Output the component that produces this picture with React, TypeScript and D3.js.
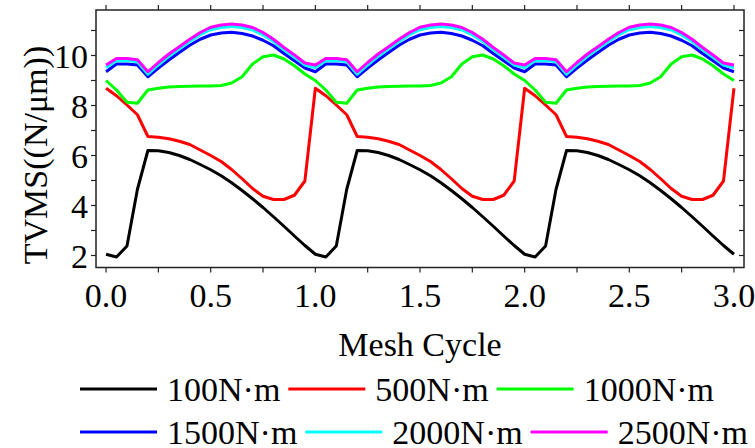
import { useRef, useEffect } from 'react'
import * as d3 from 'd3'

// mesh cycle samples, step 0.05 over 3 cycles
const CYCLE = d3.range(61).map((i) => i * 0.05)

const T100 = [
  2.05, 1.94, 2.38, 4.65, 6.2, 6.19, 6.12, 6.0, 5.84, 5.64, 5.43, 5.19, 4.91, 4.6, 4.27, 3.92, 3.55, 3.17, 2.78, 2.4,
  2.05, 1.94, 2.38, 4.65, 6.2, 6.19, 6.12, 6.0, 5.84, 5.64, 5.43, 5.19, 4.91, 4.6, 4.27, 3.92, 3.55, 3.17, 2.78, 2.4,
  2.05, 1.94, 2.38, 4.65, 6.2, 6.19, 6.12, 6.0, 5.84, 5.64, 5.43, 5.19, 4.91, 4.6, 4.27, 3.92, 3.55, 3.17, 2.78, 2.4,
  2.05,
]
const T500 = [
  8.69, 8.39, 8.02, 7.63, 6.76, 6.73, 6.67, 6.57, 6.44, 6.22, 6.0, 5.76, 5.44, 5.07, 4.68, 4.37, 4.24, 4.24, 4.41, 4.98,
  8.69, 8.39, 8.02, 7.63, 6.76, 6.73, 6.67, 6.57, 6.44, 6.22, 6.0, 5.76, 5.44, 5.07, 4.68, 4.37, 4.24, 4.24, 4.41, 4.98,
  8.69, 8.39, 8.02, 7.63, 6.76, 6.73, 6.67, 6.57, 6.44, 6.22, 6.0, 5.76, 5.44, 5.07, 4.68, 4.37, 4.24, 4.24, 4.41, 4.98,
  8.69,
]
const T1000 = [
  9.0, 8.62, 8.13, 8.09, 8.62, 8.69, 8.74, 8.76, 8.77, 8.78, 8.78, 8.8, 8.9, 9.15, 9.66, 9.95, 10.02, 9.86, 9.59, 9.26,
  9.0, 8.62, 8.13, 8.09, 8.62, 8.69, 8.74, 8.76, 8.77, 8.78, 8.78, 8.8, 8.9, 9.15, 9.66, 9.95, 10.02, 9.86, 9.59, 9.26,
  9.0, 8.62, 8.13, 8.09, 8.62, 8.69, 8.74, 8.76, 8.77, 8.78, 8.78, 8.8, 8.9, 9.15, 9.66, 9.95, 10.02, 9.86, 9.59, 9.26,
  9.0,
]
const T1500 = [
  9.35, 9.66, 9.66, 9.62, 9.15, 9.5, 9.82, 10.12, 10.41, 10.65, 10.82, 10.9, 10.93, 10.88, 10.78, 10.61, 10.39, 10.08, 9.79, 9.5,
  9.35, 9.66, 9.66, 9.62, 9.15, 9.5, 9.82, 10.12, 10.41, 10.65, 10.82, 10.9, 10.93, 10.88, 10.78, 10.61, 10.39, 10.08, 9.79, 9.5,
  9.35, 9.66, 9.66, 9.62, 9.15, 9.5, 9.82, 10.12, 10.41, 10.65, 10.82, 10.9, 10.93, 10.88, 10.78, 10.61, 10.39, 10.08, 9.79, 9.5,
  9.35,
]
const T2000 = [
  9.52, 9.79, 9.8, 9.75, 9.25, 9.62, 9.97, 10.27, 10.56, 10.83, 11.03, 11.12, 11.16, 11.12, 11.02, 10.82, 10.56, 10.23, 9.93, 9.62,
  9.52, 9.79, 9.8, 9.75, 9.25, 9.62, 9.97, 10.27, 10.56, 10.83, 11.03, 11.12, 11.16, 11.12, 11.02, 10.82, 10.56, 10.23, 9.93, 9.62,
  9.52, 9.79, 9.8, 9.75, 9.25, 9.62, 9.97, 10.27, 10.56, 10.83, 11.03, 11.12, 11.16, 11.12, 11.02, 10.82, 10.56, 10.23, 9.93, 9.62,
  9.52,
]
const T2500 = [
  9.62, 9.88, 9.88, 9.83, 9.35, 9.72, 10.06, 10.35, 10.65, 10.92, 11.13, 11.22, 11.26, 11.22, 11.12, 10.92, 10.65, 10.32, 10.02, 9.7,
  9.62, 9.88, 9.88, 9.83, 9.35, 9.72, 10.06, 10.35, 10.65, 10.92, 11.13, 11.22, 11.26, 11.22, 11.12, 10.92, 10.65, 10.32, 10.02, 9.7,
  9.62, 9.88, 9.88, 9.83, 9.35, 9.72, 10.06, 10.35, 10.65, 10.92, 11.13, 11.22, 11.26, 11.22, 11.12, 10.92, 10.65, 10.32, 10.02, 9.7,
  9.62,
]

const LABELS = ['100N·m', '500N·m', '1000N·m', '1500N·m', '2000N·m', '2500N·m']
const COLORS = ['#000000', '#ff0000', '#00ff00', '#0000ff', '#00ffff', '#ff00ff']
const SERIES = [T100, T500, T1000, T1500, T2000, T2500]

const X_TICKS = [0, 0.5, 1, 1.5, 2, 2.5, 3]
const Y_TICKS = [2, 4, 6, 8, 10]

const FONT = "'Liberation Serif','Times New Roman',serif"

export default function App() {
  const svgRef = useRef<SVGSVGElement>(null)

  useEffect(() => {
    const svg = svgRef.current
    if (!svg) return
    document.body.style.margin = '0'

    const W = 755
    const H = 448
    const left = 96, right = 744, top = 10, bottom = 267.5

    const sel = d3.select(svg)
    sel.selectAll('*').remove()
    sel.attr('width', W).attr('height', H)

    const x = d3.scaleLinear().domain([-0.048, 3.048]).range([left, right])
    const y = d3.scaleLinear().domain([1.52, 11.82]).range([bottom, top])

    // minor ticks
    const xMinor = d3.range(13).map((i) => i * 0.25)
    const yMinor = d3.range(2, 12)
    const axisColor = '#222'

    xMinor.forEach((t) => {
      sel.append('line')
        .attr('x1', x(t)).attr('x2', x(t)).attr('y1', bottom).attr('y2', bottom + 5)
        .attr('stroke', axisColor).attr('stroke-width', 1.2)
      sel.append('line')
        .attr('x1', x(t)).attr('x2', x(t)).attr('y1', top).attr('y2', top - 5)
        .attr('stroke', axisColor).attr('stroke-width', 1.2)
    })
    yMinor.forEach((t) => {
      sel.append('line')
        .attr('x1', left - 5).attr('x2', left).attr('y1', y(t)).attr('y2', y(t))
        .attr('stroke', axisColor).attr('stroke-width', 1.2)
      sel.append('line')
        .attr('x1', right - 5).attr('x2', right).attr('y1', y(t)).attr('y2', y(t))
        .attr('stroke', axisColor).attr('stroke-width', 1.2)
    })

    X_TICKS.forEach((t) => {
      sel.append('text')
        .attr('x', x(t)).attr('y', 307)
        .attr('text-anchor', 'middle')
        .attr('font-family', FONT).attr('font-size', '34px')
        .text(d3.format('.1f')(t))
    })
    Y_TICKS.forEach((t) => {
      sel.append('text')
        .attr('x', 88).attr('y', y(t) + 12)
        .attr('text-anchor', 'end')
        .attr('font-family', FONT).attr('font-size', '34px')
        .text(t)
    })

    const lineGen = d3.line<number>()
      .x((d, i) => x(CYCLE[i]))
      .y((d) => y(d))

    SERIES.forEach((s, k) => {
      sel.append('path')
        .datum(s)
        .attr('fill', 'none')
        .attr('stroke', COLORS[k])
        .attr('stroke-width', 3)
        .attr('stroke-linejoin', 'round')
        .attr('d', lineGen)
    })

    sel.append('rect')
      .attr('x', left).attr('y', top)
      .attr('width', right - left).attr('height', bottom - top)
      .attr('fill', 'none').attr('stroke', axisColor).attr('stroke-width', 1.5)

    sel.append('text')
      .attr('x', (left + right) / 2).attr('y', 356)
      .attr('text-anchor', 'middle')
      .attr('font-family', FONT).attr('font-size', '34px')
      .text('Mesh Cycle')

    sel.append('text')
      .attr('transform', 'translate(47,155) rotate(-90)')
      .attr('text-anchor', 'middle')
      .attr('font-family', FONT).attr('font-size', '34px')
      .text('TVMS((N/μm))')

    // legend, two rows of three
    const rows = [389, 432]
    rows.forEach((ry, r) => {
      let cx = 80
      for (let c = 0; c < 3; c++) {
        const k = r * 3 + c
        sel.append('line')
          .attr('x1', cx).attr('x2', cx + 77).attr('y1', ry).attr('y2', ry)
          .attr('stroke', COLORS[k]).attr('stroke-width', 3)
        const txt = sel.append('text')
          .attr('x', cx + 87).attr('y', ry + 12)
          .attr('font-family', FONT).attr('font-size', '34px')
          .text(LABELS[k])
        const w = (txt.node() as SVGTextElement).getComputedTextLength()
        cx = cx + 87 + w + 8
      }
    })
  }, [])

  return <svg ref={svgRef} style={{ display: 'block' }} />
}
